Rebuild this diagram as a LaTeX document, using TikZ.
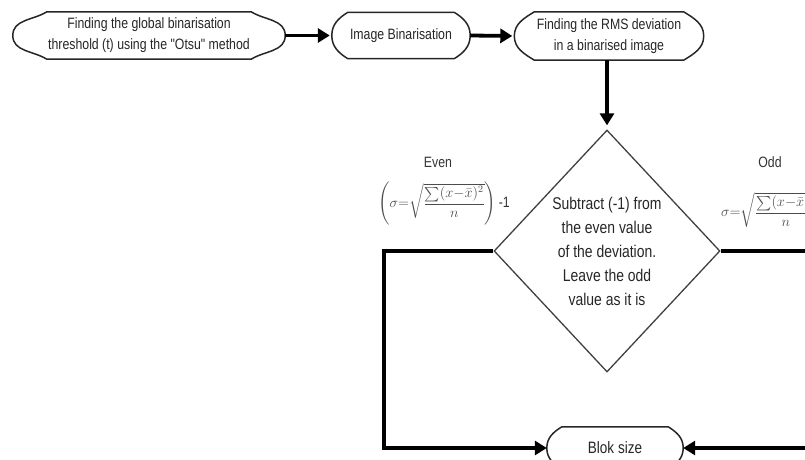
\documentclass[tikz,border=0pt]{standalone}
\usepackage{amsmath}
\usepackage{fontspec}
\setmainfont{Liberation Sans}[FakeStretch=0.82,Ligatures=TeXOff]
\usetikzlibrary{arrows.meta}
\usetikzlibrary{calc}
\usetikzlibrary{shapes.geometric}

% outline of a terminal box: node name, chamfer
\newcommand{\termoutline}[2]{%
  \draw[term_line] ($(#1.north west)+(#2,0)$) -- ($(#1.north east)+(-#2,0)$)
    to[out=-32,in=90] (#1.east) to[out=-90,in=32] ($(#1.south east)+(-#2,0)$)
    -- ($(#1.south west)+(#2,0)$) to[out=148,in=-90] (#1.west)
    to[out=90,in=-148] cycle;}

\begin{document}
\begin{tikzpicture}[x=1pt,y=1pt]
        \tikzset{term/.style = {shape=rectangle,draw=none,inner sep=0pt,align=center,text=black!85,font=\fontsize{15}{21}\selectfont}}
        \tikzset{term_line/.style = {draw=black!85,line width=1.5pt,line join=round}}
        \tikzset{decision/.style = {shape=diamond,draw=black!75,line width=1.3pt,inner sep=0pt,minimum width=226pt,minimum height=242pt,align=center,text=black!85,font=\fontsize{17}{24}\selectfont}}
        \tikzset{flow_edge/.style = {-{Triangle[length=12pt,width=14pt]},line width=3.8pt,color=black}}
        \tikzset{link_edge/.style = {-{Triangle[length=12pt,width=14pt]},line width=3.8pt,color=black}}
        \tikzset{eq_label/.style = {inner sep=0pt,text=black!80,font=\fontsize{15}{18}\selectfont}}
        \tikzset{eq_math/.style = {inner sep=0pt,text=black!70,font=\fontsize{14}{16}\selectfont}}

        \useasboundingbox (0,0) rectangle (805,-460);
        \clip (0,0) rectangle (805,-460);

        \node[term,minimum width=272pt,minimum height=47pt] (otsu) at (149,-35.5) {Finding the global binarisation\\threshold (t) using the "Otsu" method};
        \node[term,minimum width=138pt,minimum height=46pt] (binar) at (401,-35.5) {Image Binarisation};
        \node[term,minimum width=189pt,minimum height=48pt] (rms) at (609,-36) {Finding the RMS deviation\\in a binarised image};
        \node[decision] (dec) at (607,-251) {Subtract (-1) from\\the even value\\of the deviation.\\Leave the odd\\value as it is};
        \node[term,minimum width=136pt,minimum height=42pt,font=\fontsize{16.5}{20}\selectfont] (blok) at (615,-448) {Blok size};
        \termoutline{otsu}{34}
        \termoutline{binar}{16}
        \termoutline{rms}{20}
        \termoutline{blok}{15}

        \node[eq_label] (even_lbl) at (438,-162) {Even};
        \node[eq_label] (even_eq) at (444,-204) {{\fontsize{14}{16}\selectfont\color{black!70}$\left(\sigma{=}\sqrt{\dfrac{\sum(x{-}\bar{x})^2}{n}}\right)$}\,-1};
        \node[eq_label] (odd_lbl) at (770,-162) {Odd};
        \node[eq_math,anchor=west] (odd_eq) at (721,-210) {$\sigma{=}\sqrt{\dfrac{\sum(x{-}\bar{x})^2}{n}}$};

        \coordinate (left_turn) at (384,-251);
        \coordinate (right_turn) at (830,-251);

        \draw[flow_edge,shorten >=2pt] (otsu.east) -- (binar.west);
        \draw[flow_edge,shorten >=2pt] (binar.east) -- (rms.west);
        \draw[flow_edge,shorten >=4pt] (rms.south -| dec.north) -- (dec.north);
        \draw[link_edge] (dec.west) -- (left_turn) |- (blok.west);
        \draw[link_edge] (dec.east) -- (right_turn) |- (blok.east);
    \end{tikzpicture}
\end{document}
